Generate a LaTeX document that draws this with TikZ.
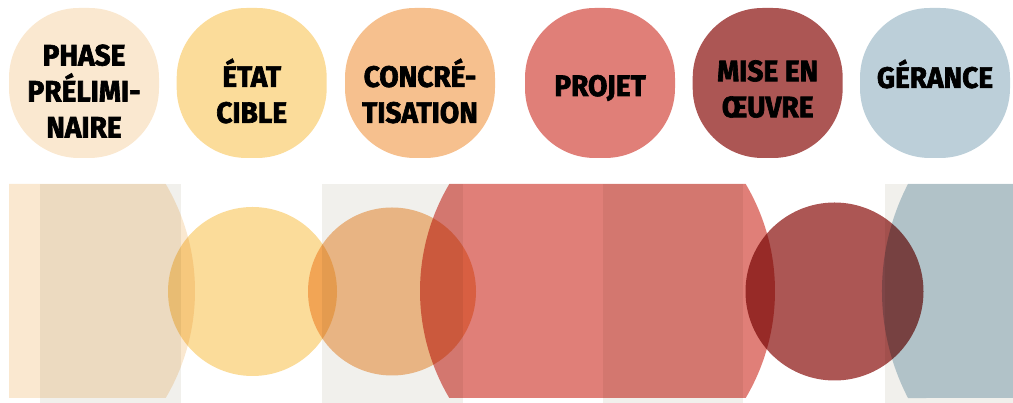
\documentclass[tikz,border=0pt]{standalone}
\usepackage{fontspec}
\usepackage{xcolor}
\usepackage{tikz}
\usetikzlibrary{positioning}
\newfontfamily\phasefont[FakeBold=2.2, FakeStretch=0.95]{Fira Sans}
\definecolor{cPeach}{HTML}{FAE8D0}
\definecolor{cYellow}{HTML}{FBDC9A}
\definecolor{cOrange}{HTML}{F6C08E}
\definecolor{cRed}{HTML}{E07F78}
\definecolor{cWine}{HTML}{AC5654}
\definecolor{cBlue}{HTML}{BCCFD9}
\definecolor{cGrey}{HTML}{F1F0EC}
\tikzset{
	phase/.style   ={rectangle, minimum size=150pt, rounded corners=70pt, inner sep=0pt},
	phaselbl/.style={align=center, inner sep=0pt, text=black, font=\phasefont\bfseries\fontsize{29.5}{36}\selectfont},
}
\begin{document}
\begin{tikzpicture}[x=1pt, y=1pt]
	\useasboundingbox (0,0) rectangle (1013,403);
	% top row
	\node[phase, fill=cPeach]  (pre)  at (84,320) {};
	\node[phase, fill=cYellow] (cib)  at (251.7,320) {};
	\node[phase, fill=cOrange] (con)  at (420,320) {};
	\node[phase, fill=cRed]    (pro)  at (600,320) {};
	\node[phase, fill=cWine]   (mis)  at (767.7,320) {};
	\node[phase, fill=cBlue]   (ger)  at (935,320) {};
	\node[phaselbl] (preT) at ([yshift=-8pt]pre.center) {PHASE\\PRÉLIMI-\\NAIRE};
	\node[phaselbl] (cibT) at ([yshift=-8pt]cib.center) {ÉTAT\\CIBLE};
	\node[phaselbl] (conT) at ([yshift=-8pt]con.center) {CONCRÉ-\\TISATION};
	\node[phaselbl] (proT) at ([yshift=-5pt]pro.center) {PROJET};
	\node[phaselbl] (misT) at ([yshift=-6pt]mis.center) {MISE EN\\ŒUVRE};
	\node[phaselbl] (gerT) at ([yshift=9pt]ger.center) {GÉRANCE};
	% bottom band
	\begin{scope}[blend mode=multiply]
		\fill[cGrey] (40,0) rectangle (181,219);
		\fill[cGrey] (322,0) rectangle (463,219);
		\fill[cGrey] (603,0) rectangle (743,219);
		\fill[cGrey] (885,0) rectangle (1013,219);
		\fill[cPeach] (9,219) -- (165.7,219) arc[start angle=30.63, end angle=-30.63, radius=210] -- (9,5) -- cycle;
		\fill[cRed] (449.3,219) -- (745.7,219) arc[start angle=30.63, end angle=-30.63, radius=210]
			-- (449.3,5) arc[start angle=210.63, end angle=149.37, radius=210] -- cycle;
		\fill[cBlue] (1013,219) -- (908,219) arc[start angle=152.66, end angle=207.34, radius=233] -- (1013,5) -- cycle;
		\fill[cYellow] (252.5,111.5) circle (84.5);
		\fill[cOrange] (392,111.5) circle (84);
		\fill[cWine] (834.5,111.5) circle (89);
	\end{scope}
\end{tikzpicture}
\end{document}
